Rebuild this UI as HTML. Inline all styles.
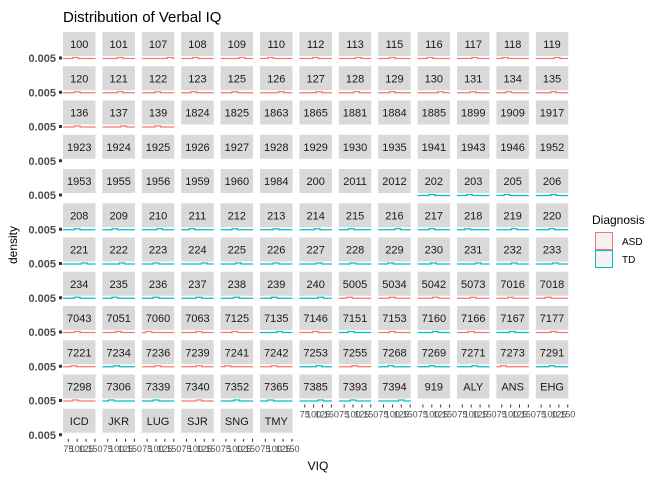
<!DOCTYPE html>
<html><head><meta charset="utf-8"><style>
body{margin:0;background:#fff;}
svg{display:block;font-family:"Liberation Sans",sans-serif;}
</style></head><body>
<svg id="chart" width="672" height="480">
<text x="63" y="22" font-size="15" fill="#000">Distribution of Verbal IQ</text>
<text x="17" y="245" font-size="12" fill="#000" transform="rotate(-90 17 245)" text-anchor="middle">density</text>
<text x="318" y="470" font-size="12" fill="#000" text-anchor="middle">VIQ</text>
<g>
<text x="592" y="224" font-size="12" fill="#000">Diagnosis</text>
<rect x="595.5" y="232.5" width="17" height="17" fill="#f2f2f2" stroke="#F8766D"/>
<text x="622" y="245" font-size="10" fill="#000">ASD</text>
<rect x="595.5" y="250.5" width="17" height="17" fill="#f2f2f2" stroke="#00BFC4"/>
<text x="622" y="263" font-size="10" fill="#000">TD</text>
</g>
<g id="panels"></g>
</svg>
<script>
const ids = ["100","101","107","108","109","110","112","113","115","116","117","118","119",
"120","121","122","123","125","126","127","128","129","130","131","134","135",
"136","137","139","1824","1825","1863","1865","1881","1884","1885","1899","1909","1917",
"1923","1924","1925","1926","1927","1928","1929","1930","1935","1941","1943","1946","1952",
"1953","1955","1956","1959","1960","1984","200","2011","2012","202","203","205","206",
"208","209","210","211","212","213","214","215","216","217","218","219","220",
"221","222","223","224","225","226","227","228","229","230","231","232","233",
"234","235","236","237","238","239","240","5005","5034","5042","5073","7016","7018",
"7043","7051","7060","7063","7125","7135","7146","7151","7153","7160","7166","7167","7177",
"7221","7234","7236","7239","7241","7242","7253","7255","7268","7269","7271","7273","7291",
"7298","7306","7339","7340","7352","7365","7385","7393","7394","919","ALY","ANS","EHG",
"ICD","JKR","LUG","SJR","SNG","TMY"];
const diagnosis = ("AAAAAAAAAAAAA"+"AAAAAAAAAAAAA"+"AAANNNNNNNNNN"+"NNNNNNNNNNNNN"+"NNNNNNNNNTTTT"+
"TTTTTTTTTTTTT"+"TTTTTTTTTTTTT"+"TTTTTTTAAAAAA"+"AAAAATATATATA"+"ATAAAATATTTAT"+"ATTATTTTTNNNN"+"NNNNNN").split("");
const viqValues = [95,110,140,100,120,90,105,115,100,95,110,85,120,
100,110,105,95,100,120,115,110,100,125,105,95,110,
100,120,105,0,0,0,0,0,0,0,0,0,0,
0,0,0,0,0,0,0,0,0,0,0,0,0,
0,0,0,0,0,0,0,0,0,100,95,90,110,
100,95,110,90,100,105,110,95,115,100,90,110,105,
120,115,100,125,110,105,115,100,95,105,120,110,115,
100,95,100,110,105,100,120,90,100,110,105,100,95,
100,105,80,110,100,115,105,95,100,110,100,105,110,
90,100,105,110,80,100,115,105,95,100,110,80,105,
95,85,100,110,105,90,120,100,125,0,0,0,0,
0,0,0,0,0,0];
const xTicks = [75,100,125,150];
const yTickLabel = "0.005";

const NS="http://www.w3.org/2000/svg";
const g=document.getElementById('panels');
const colX=c=>63+c*39.4, rowY=r=>32+r*34.25, PW=32.5;
const xScale=(c,v)=>colX(c)+(v-60)/(151.5-60)*PW;
function mk(t,a){const e=document.createElementNS(NS,t);for(const k in a)e.setAttribute(k,a[k]);return e;}
for(let r=0;r<12;r++){
  const t=mk('text',{x:56,y:rowY(r)+30,'font-size':11,'font-weight':'bold','text-anchor':'end',fill:'#4d4d4d'});
  
  
  t.textContent=yTickLabel;g.appendChild(t);
  const m=mk('rect',{x:59,y:rowY(r)+24.5,width:3,height:3,fill:'#333'});
  
  
  g.appendChild(m);
}
ids.forEach((id,i)=>{
  const r=Math.floor(i/13),c=i%13,x=colX(c),y=rowY(r);
  const s=mk('rect',{x:x,y:y,width:PW,height:24,fill:'#d9d9d9'});
  
  
  g.appendChild(s);
  const t=mk('text',{x:x+PW/2,y:y+16,'font-size':11,'text-anchor':'middle',fill:'#1a1a1a'});
  
  
  t.textContent=id;g.appendChild(t);
  const d=diagnosis[i];
  if(d!=='N'){
    const col=d==='A'?'#F8766D':'#00BFC4';
    const base=y+26.5,v=viqValues[i];
    const b0=xScale(c,v-8),b1=xScale(c,v+8);
    const p=mk('path',{d:`M${x} ${base} L${b0} ${base} L${b0} ${base-1} L${b1} ${base-1} L${b1} ${base} L${x+PW} ${base}`,fill:'none',stroke:col,'stroke-width':1.3});
    
    
    g.appendChild(p);
  }
  const hasBelow=i+13<ids.length;
  if(!hasBelow){
    const ty=y+30;
    xTicks.forEach(v=>{
      const tx=xScale(c,v);
      const l=mk('line',{x1:tx,x2:tx,y1:ty,y2:ty+3,stroke:'#333','stroke-width':1});
      
      
      g.appendChild(l);
      const lt=mk('text',{x:tx,y:ty+13,'font-size':9,'text-anchor':'middle',fill:'#4d4d4d'});
      
      
      lt.textContent=v;g.appendChild(lt);
    });
  }
});
</script>
</body></html>
